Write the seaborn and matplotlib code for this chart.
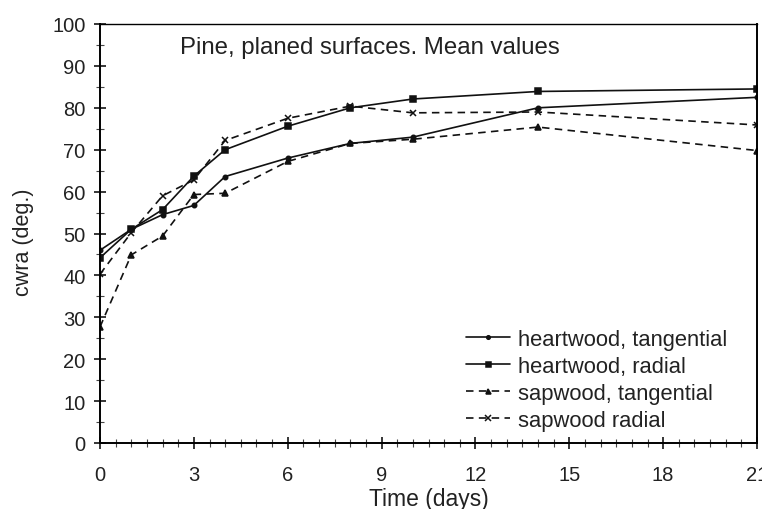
import numpy as np
import pandas as pd
import matplotlib
matplotlib.use("Agg")
import matplotlib.pyplot as plt
import seaborn as sns
from matplotlib.ticker import MultipleLocator

days = [0, 1, 2, 3, 4, 6, 8, 10, 14, 21]
heart_tang = [46, 51, 54.5, 56.7, 63.6, 68, 71.5, 73, 80, 82.5]
heart_rad = [44.2, 51, 55.7, 63.7, 70, 75.6, 80, 82.1, 83.9, 84.5]
sap_tang = [27.7, 44.9, 49.4, 59.3, 59.6, 67.2, 71.5, 72.5, 75.4, 69.8]
sap_rad = [40.3, 50.2, 59, 62.8, 72.2, 77.5, 80.4, 78.8, 79, 75.9]

dash = (0, (4.5, 3.2))
series = [
    ("heartwood, tangential", heart_tang, "-", "o", 3.2),
    ("heartwood, radial", heart_rad, "-", "s", 4.5),
    ("sapwood, tangential", sap_tang, dash, "^", 4.5),
    ("sapwood radial", sap_rad, dash, "x", 5),
]

sns.set_theme(style="white")
plt.rcParams['font.family'] = ['Liberation Sans', 'DejaVu Sans']

fig = plt.figure(figsize=(7.62, 5.10), dpi=100)
ax = fig.add_axes([100/762, 1-444/510, 657/762, 419/510])

for name, vals, ls, mk, ms in series:
    df = pd.DataFrame({"day": days, "val": vals})
    sns.lineplot(data=df, x="day", y="val", ax=ax, color="#111111", linewidth=1.2,
                 linestyle=ls, marker=mk, markersize=ms, markeredgecolor="#111111",
                 markeredgewidth=1.1, label=name)

ax.set_xlim(0, 21)
ax.set_ylim(0, 100)
ax.xaxis.set_major_locator(MultipleLocator(3))
ax.xaxis.set_minor_locator(MultipleLocator(0.5))
ax.yaxis.set_major_locator(MultipleLocator(10))
ax.yaxis.set_minor_locator(MultipleLocator(5))
ax.tick_params(axis="both", which="major", direction="inout", length=9, width=1.1,
               color="black", labelsize=14.5, labelcolor="#222222", bottom=True, left=True)
ax.tick_params(axis="both", which="minor", direction="inout", length=6, width=0.8,
               color="#444444", bottom=True, left=True)
ax.tick_params(axis="x", which="major", pad=11)
ax.tick_params(axis="y", which="major", pad=6)

for side in ["left", "bottom", "right", "top"]:
    ax.spines[side].set_visible(True)
    ax.spines[side].set_color("black")
ax.spines["left"].set_linewidth(1.4)
ax.spines["bottom"].set_linewidth(1.4)
ax.spines["right"].set_linewidth(1.4)
ax.spines["top"].set_linewidth(1.0)

ax.set_xlabel("Time (days)", fontsize=16.5, color="#222222")
ax.set_ylabel("cwra (deg.)", fontsize=15.5, color="#222222")
ax.xaxis.label.set_va("center")
ax.yaxis.label.set_va("center")
ax.xaxis.set_label_coords(0.5, (444 - 500) / 419)
ax.yaxis.set_label_coords((23 - 100) / 657, (444 - 242) / 419)

ax.text((180 - 100) / 657, (444 - 48) / 419, "Pine, planed surfaces. Mean values",
        transform=ax.transAxes, fontsize=17.3, color="#222222", ha="left", va="center")

leg = ax.legend(loc="lower left", bbox_to_anchor=((466 - 100) / 657, (444 - 432) / 419),
                frameon=False, fontsize=15.8, handlelength=2.0, handletextpad=0.35,
                labelspacing=0.28, borderaxespad=0.0, borderpad=0.0, markerscale=0.8)
for t in leg.get_texts():
    t.set_color("#222222")

fig.savefig("out.png", dpi=100, facecolor="white")
